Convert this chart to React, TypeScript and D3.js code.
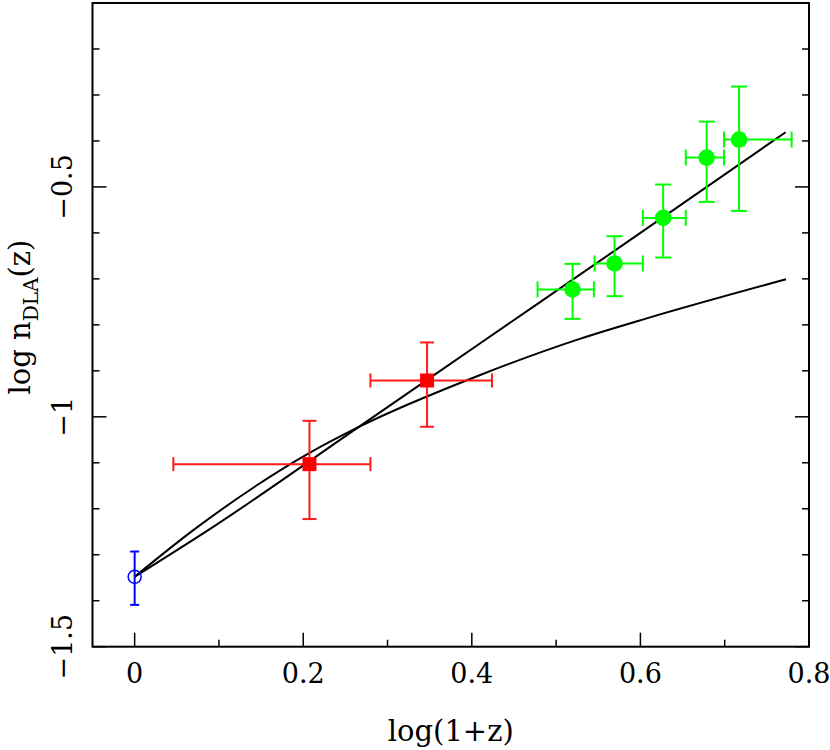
import React from "react";
import * as d3 from "d3";

// ---- data ----
const blueX = [0];
const blueY = [-1.348];
const blueYLo = [-1.409];
const blueYHi = [-1.293];

const redX = [0.2074, 0.3469];
const redY = [-1.103, -0.921];
const redXLo = [0.0459, 0.2797];
const redXHi = [0.2797, 0.4239];
const redYLo = [-1.2224, -1.0217];
const redYHi = [-1.0087, -0.8383];

const greenX = [0.5195, 0.5693, 0.627, 0.6786, 0.717];
const greenY = [-0.723, -0.6665, -0.5674, -0.4362, -0.397];
const greenXLo = [0.478, 0.5456, 0.6029, 0.6538, 0.6992];
const greenXHi = [0.5448, 0.6029, 0.6538, 0.6992, 0.7794];
const greenYLo = [-0.787, -0.7376, -0.6535, -0.5326, -0.5522];
const greenYHi = [-0.6674, -0.6072, -0.4948, -0.3579, -0.2817];

const steepX = [0, 0.0877, 0.266, 0.41, 0.57, 0.7723];
const steepY = [-1.348, -1.246, -1.022, -0.84, -0.638, -0.381];

const curveX = [0, 0.07, 0.207, 0.266, 0.41, 0.529, 0.6075, 0.7727];
const curveY = [-1.348, -1.246, -1.079, -1.022, -0.909, -0.83, -0.786, -0.701];

const xMajor = [0, 0.2, 0.4, 0.6, 0.8];
const xMinor = [0.1, 0.3, 0.5, 0.7];
const yMajor = [-1.5, -1, -0.5];
const yMinor = [-1.4, -1.3, -1.2, -1.1, -0.9, -0.8, -0.7, -0.6, -0.4, -0.3, -0.2];
const xTickLabels = ["0", "0.2", "0.4", "0.6", "0.8"];
const yTickLabels = ["\u22121.5", "\u22121", "\u22120.5"];

const W = 830;
const H = 750;
const L = 92.5;
const R = 809;
const T = 3;
const B = 646.7;

const FONT = "'DejaVu Serif', 'Liberation Serif', serif";

export default function App() {
  const x = d3.scaleLinear().domain([-0.05, 0.8]).range([L, R]);
  const y = d3.scaleLinear().domain([-1.5, -0.1]).range([B, T]);

  const line = d3
    .line<[number, number]>()
    .x((d) => x(d[0]))
    .y((d) => y(d[1]))
    .curve(d3.curveMonotoneX);

  const steep = steepX.map((v, i) => [v, steepY[i]] as [number, number]);
  const curved = curveX.map((v, i) => [v, curveY[i]] as [number, number]);

  const errBars = (
    xs: number[], ys: number[],
    xlo: number[] | null, xhi: number[] | null,
    ylo: number[], yhi: number[],
    color: string, cap: number
  ) =>
    xs.map((xv, i) => (
      <g key={i} stroke={color} strokeWidth={2} fill="none">
        <line x1={x(xv)} x2={x(xv)} y1={y(ylo[i])} y2={y(yhi[i])} />
        <line x1={x(xv) - cap} x2={x(xv) + cap} y1={y(ylo[i])} y2={y(ylo[i])} />
        <line x1={x(xv) - cap} x2={x(xv) + cap} y1={y(yhi[i])} y2={y(yhi[i])} />
        {xlo && xhi && (
          <>
            <line x1={x(xlo[i])} x2={x(xhi[i])} y1={y(ys[i])} y2={y(ys[i])} />
            <line x1={x(xlo[i])} x2={x(xlo[i])} y1={y(ys[i]) - cap} y2={y(ys[i]) + cap} />
            <line x1={x(xhi[i])} x2={x(xhi[i])} y1={y(ys[i]) - cap} y2={y(ys[i]) + cap} />
          </>
        )}
      </g>
    ));

  return (
    <svg
      width={W}
      height={H}
      style={{ position: "absolute", left: 0, top: 0, background: "#fff" }}
    >
      {/* curves */}
      <path d={line(steep) || ""} fill="none" stroke="#000" strokeWidth={2} />
      <path d={line(curved) || ""} fill="none" stroke="#000" strokeWidth={2} />

      {/* blue */}
      {errBars(blueX, blueY, null, null, blueYLo, blueYHi, "#0000ff", 4.5)}
      {blueX.map((v, i) => (
        <circle key={i} cx={x(v)} cy={y(blueY[i])} r={6.5} fill="none" stroke="#0000ff" strokeWidth={1.5} />
      ))}

      {/* red */}
      {errBars(redX, redY, redXLo, redXHi, redYLo, redYHi, "#ff1a1a", 7)}
      {redX.map((v, i) => (
        <rect key={i} x={x(v) - 7} y={y(redY[i]) - 7} width={14} height={14} fill="#ff0000" />
      ))}

      {/* green */}
      {errBars(greenX, greenY, greenXLo, greenXHi, greenYLo, greenYHi, "#00ff00", 8)}
      {greenX.map((v, i) => (
        <circle key={i} cx={x(v)} cy={y(greenY[i])} r={8.3} fill="#00ff00" />
      ))}

      {/* frame */}
      <rect x={L} y={T} width={R - L} height={B - T} fill="none" stroke="#000" strokeWidth={2} />

      {/* x ticks */}
      {xMajor.map((v) => (
        <line key={"xM" + v} x1={x(v)} x2={x(v)} y1={B} y2={B - 14} stroke="#000" strokeWidth={1.5} />
      ))}
      {xMinor.map((v) => (
        <line key={"xm" + v} x1={x(v)} x2={x(v)} y1={B} y2={B - 7} stroke="#000" strokeWidth={1.5} />
      ))}
      {xMajor.map((v, i) => (
        <text key={"xl" + v} x={x(v)} y={683} textAnchor="middle" fontFamily={FONT} fontSize={27} fill="#000">
          {xTickLabels[i]}
        </text>
      ))}

      {/* y ticks (left and right) */}
      {yMajor.map((v) => (
        <g key={"yM" + v} stroke="#000" strokeWidth={1.5}>
          <line x1={L} x2={L + 14} y1={y(v)} y2={y(v)} />
          <line x1={R} x2={R - 14} y1={y(v)} y2={y(v)} />
        </g>
      ))}
      {yMinor.map((v) => (
        <g key={"ym" + v} stroke="#000" strokeWidth={1.5}>
          <line x1={L} x2={L + 7} y1={y(v)} y2={y(v)} />
          <line x1={R} x2={R - 7} y1={y(v)} y2={y(v)} />
        </g>
      ))}
      {yMajor.map((v, i) => (
        <text
          key={"yl" + v}
          transform={`translate(72, ${y(v)}) rotate(-90)`}
          textAnchor="middle"
          fontFamily={FONT}
          fontSize={27}
          fill="#000"
        >
          {yTickLabels[i]}
        </text>
      ))}

      {/* axis titles */}
      <text x={(L + R) / 2} y={741} textAnchor="middle" fontFamily={FONT} fontSize={29} fill="#000">
        log(1+z)
      </text>
      <text
        transform={`translate(30, 317) rotate(-90)`}
        textAnchor="middle"
        fontFamily={FONT}
        fontSize={29}
        fill="#000"
      >
        log n
        <tspan fontSize={20} dy={8}>DLA</tspan>
        <tspan dy={-8}>(z)</tspan>
      </text>
    </svg>
  );
}
